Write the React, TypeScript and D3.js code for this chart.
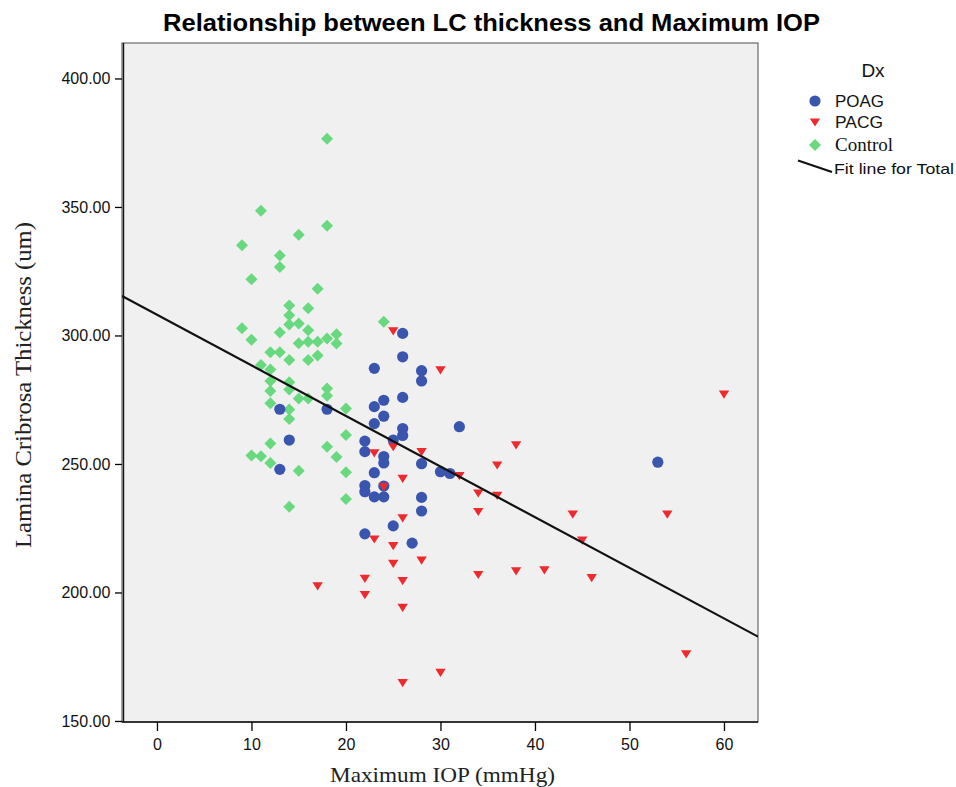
import React, { useEffect, useRef } from 'react';
import * as d3 from 'd3';

// ---- data ----
const poagIOP = [13, 18, 14, 13, 26, 26, 23, 28, 28, 26, 24, 23, 24, 23, 26, 26, 25, 22, 22, 24, 24, 28, 23, 30, 31, 32, 22, 22, 24, 23, 24, 28, 28, 25, 22, 27, 53];
const poagLC = [271.3, 271.3, 259.3, 247.9, 300.8, 291.7, 287.2, 286.3, 282.3, 275.9, 274.8, 272.3, 268.6, 265.7, 263.8, 261.1, 259.3, 258.9, 254.8, 252.9, 250.4, 250.1, 246.6, 247.0, 246.3, 264.5, 241.6, 239.2, 241.4, 237.2, 237.2, 237.0, 231.7, 225.9, 222.8, 219.2, 250.7];

const pacgIOP = [25, 30, 23, 25, 28, 38, 36, 32, 26, 24, 34, 36, 34, 26, 23, 25, 25, 28, 34, 22, 26, 17, 22, 26, 30, 26, 60, 44, 54, 45, 38, 41, 46, 56];
const pacgLC = [301.8, 286.6, 254.3, 256.7, 254.8, 257.4, 249.6, 245.5, 244.4, 241.2, 238.7, 237.8, 231.5, 229.0, 220.8, 218.2, 211.3, 212.6, 207.0, 205.5, 204.6, 202.6, 199.2, 194.2, 168.9, 164.9, 277.2, 230.5, 230.5, 220.4, 208.4, 208.8, 205.8, 176.1];

const controlIOP = [18, 11, 18, 15, 9, 13, 13, 10, 17, 14, 16, 14, 14, 15, 24, 9, 13, 16, 10, 15, 16, 17, 18, 19, 19, 12, 13, 14, 16, 17, 11, 12, 12, 14, 12, 14, 15, 16, 18, 18, 12, 14, 14, 20, 20, 12, 18, 19, 10, 11, 12, 15, 20, 20, 14];
const controlLC = [376.5, 348.5, 342.7, 339.2, 335.1, 331.1, 326.6, 321.9, 318.2, 311.7, 310.6, 307.9, 304.3, 304.7, 305.3, 302.8, 301.2, 302.0, 298.3, 297.0, 297.6, 297.6, 298.8, 300.5, 296.9, 293.5, 293.5, 290.5, 290.5, 292.2, 288.5, 286.8, 282.3, 281.8, 278.4, 279.0, 275.5, 275.5, 279.4, 276.5, 273.6, 271.2, 267.5, 271.6, 261.3, 258.0, 256.7, 252.7, 253.3, 253.0, 250.4, 247.4, 246.8, 236.4, 233.4];

const fitIntercept = 308.1;
const fitSlope = -1.97;

const xTicks = [0, 10, 20, 30, 40, 50, 60];
const yTicks = [150, 200, 250, 300, 350, 400];

const titleText = 'Relationship between LC thickness and Maximum IOP';
const xTitle = 'Maximum IOP (mmHg)';
const yTitle = 'Lamina Cribrosa Thickness (um)';
const legendTitle = 'Dx';
const legendLabels = ['POAG', 'PACG', 'Control', 'Fit line for Total'];

const BLUE = '#3a55ae';
const RED = '#ee2a2e';
const GREEN = '#68d97f';

const W = 956;
const H = 787;
const L = 122, R = 758, T = 43, B = 722;

const diamond = 'M0,-6L6,0L0,6L-6,0Z';
const triDown = 'M-5.2,-3.6L5.2,-3.6L0,4.6Z';

const SANS = 'Liberation Sans, Arial, sans-serif';
const SERIF = 'Liberation Serif, Times New Roman, serif';

export default function App() {
  const xRef = useRef<SVGGElement>(null);
  const yRef = useRef<SVGGElement>(null);

  const x = d3.scaleLinear().domain([-3.7, 63.6]).range([L, R]);
  const y = d3.scaleLinear().domain([149.6, 413.8]).range([B, T]);

  useEffect(() => {
    const gx = d3.select(xRef.current!);
    gx.selectAll('*').remove();
    gx.call(d3.axisBottom(x).tickValues(xTicks).tickSize(9).tickSizeOuter(0).tickFormat(d3.format('d')) as any);
    gx.select('.domain').remove();
    gx.selectAll('.tick line').attr('stroke', '#000').attr('stroke-width', 1.3);
    gx.selectAll('.tick text').attr('font-family', SANS).attr('font-size', 16).attr('fill', '#111').attr('dy', '1.0em');

    const gy = d3.select(yRef.current!);
    gy.selectAll('*').remove();
    gy.call(d3.axisLeft(y).tickValues(yTicks).tickSize(7).tickSizeOuter(0).tickFormat(d3.format('.2f')) as any);
    gy.select('.domain').remove();
    gy.selectAll('.tick line').attr('stroke', '#000').attr('stroke-width', 1.3);
    gy.selectAll('.tick text').attr('font-family', SANS).attr('font-size', 16).attr('fill', '#111').attr('dx', '-0.1em');
  }, []);

  const x0 = x.domain()[0];
  const x1 = x.domain()[1];
  const fitLine = d3.line<number>().x((d) => x(d)).y((d) => y(fitIntercept + fitSlope * d));

  const controlPts = controlIOP.map((v, i) => [v, controlLC[i]]);
  const poagPts = poagIOP.map((v, i) => [v, poagLC[i]]);
  const pacgPts = pacgIOP.map((v, i) => [v, pacgLC[i]]);

  return (
    <svg width={W} height={H} style={{ position: 'absolute', left: 0, top: 0, background: '#fff' }}>
      <text x={163} y={31} fontFamily={SANS} fontWeight="bold" fontSize={24} textLength={657} lengthAdjust="spacingAndGlyphs" fill="#000">{titleText}</text>

      <rect x={L} y={T} width={R - L} height={B - T} fill="#f0f0f0" stroke="#6a6a6a" strokeWidth={1.2} />
      <line x1={L + 1.5} x2={L + 1.5} y1={T} y2={B} stroke="#111" strokeWidth={1.4} />
      <line x1={L} x2={R} y1={B} y2={B} stroke="#111" strokeWidth={1.4} />

      <defs>
        <clipPath id="plotclip"><rect x={L} y={T} width={R - L} height={B - T} /></clipPath>
      </defs>

      <g>
        {controlPts.map((p, i) => (
          <path key={'c' + i} d={diamond} transform={`translate(${x(p[0])},${y(p[1])})`} fill={GREEN} />
        ))}
        {poagPts.map((p, i) => (
          <circle key={'p' + i} cx={x(p[0])} cy={y(p[1])} r={5.6} fill={BLUE} />
        ))}
        {pacgPts.map((p, i) => (
          <path key={'a' + i} d={triDown} transform={`translate(${x(p[0])},${y(p[1])})`} fill={RED} />
        ))}
      </g>

      <path d={fitLine([x0, x1]) || ''} stroke="#111" strokeWidth={2.2} fill="none" clipPath="url(#plotclip)" />

      <g ref={xRef} transform={`translate(0,${B})`} />
      <g ref={yRef} transform={`translate(${L},0)`} />

      <text x={330} y={782} fontFamily={SERIF} fontSize={22} textLength={225} lengthAdjust="spacingAndGlyphs" fill="#222">{xTitle}</text>
      <text transform={`translate(31,548) rotate(-90)`} fontFamily={SERIF} fontSize={23} textLength={326} lengthAdjust="spacingAndGlyphs" fill="#222">{yTitle}</text>

      <g fontFamily={SANS} fill="#111">
        <text x={873} y={77} textAnchor="middle" fontSize={19}>{legendTitle}</text>
        <circle cx={815} cy={101} r={5.6} fill={BLUE} />
        <text x={835} y={106.5} fontSize={16} textLength={49} lengthAdjust="spacingAndGlyphs">{legendLabels[0]}</text>
        <path d={triDown} transform="translate(815,122)" fill={RED} />
        <text x={835} y={127.5} fontSize={16} textLength={48} lengthAdjust="spacingAndGlyphs">{legendLabels[1]}</text>
        <path d={diamond} transform="translate(815,145)" fill={GREEN} />
        <text x={835} y={150.5} fontSize={18} fontFamily={SERIF} textLength={58} lengthAdjust="spacingAndGlyphs">{legendLabels[2]}</text>
        <line x1={798} y1={160.5} x2={832} y2={172} stroke="#111" strokeWidth={2} />
        <text x={834} y={173.5} fontSize={15} textLength={120} lengthAdjust="spacingAndGlyphs">{legendLabels[3]}</text>
      </g>
    </svg>
  );
}
